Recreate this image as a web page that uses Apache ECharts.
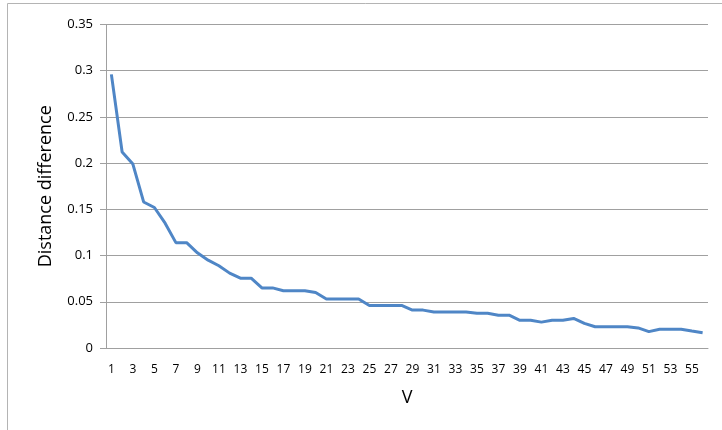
<!DOCTYPE html>
<html>
<head>
<meta charset="utf-8">
<script src="https://cdn.jsdelivr.net/npm/echarts@6/dist/echarts.min.js"></script>
<style>
  html, body { margin: 0; padding: 0; background: #fff; }
  #chart { width: 722px; height: 430px; }
</style>
</head>
<body>
<div id="chart"></div>
<script>
  // V values 1..56
  let vCategories = [];
  for (let i = 1; i <= 56; i++) vCategories.push(String(i));

  // distance difference
  let distanceDiff = [
    0.296, 0.212, 0.199, 0.158, 0.152, 0.135, 0.114, 0.114, 0.103, 0.095,
    0.089, 0.081, 0.0755, 0.0755, 0.065, 0.065, 0.062, 0.062, 0.062, 0.060,
    0.053, 0.053, 0.053, 0.053, 0.046, 0.046, 0.046, 0.046, 0.041, 0.041,
    0.039, 0.039, 0.039, 0.039, 0.0376, 0.0376, 0.0355, 0.0355, 0.030, 0.030,
    0.028, 0.030, 0.030, 0.032, 0.0267, 0.023, 0.023, 0.023, 0.023, 0.0217,
    0.0177, 0.0203, 0.0203, 0.0203, 0.0184, 0.0166
  ];

  let fontName = 'Open Sans';
  let gridGray = '#A0A0A0';

  let myChart = echarts.init(document.getElementById('chart'));
  let option = {
    animation: false,
    textStyle: { fontFamily: fontName },
    graphic: [
      {
        type: 'rect',
        shape: { x: 7.5, y: 3.5, width: 760, height: 480 },
        style: { fill: 'none', stroke: '#B4B4B4', lineWidth: 1 },
        silent: true
      }
    ],
    grid: {
      left: 106,
      right: 14,
      top: 24.5,
      bottom: 82
    },
    xAxis: {
      type: 'category',
      data: vCategories,
      boundaryGap: true,
      name: 'V',
      nameLocation: 'middle',
      nameGap: 41,
      nameTextStyle: { fontSize: 18, color: '#000', fontFamily: fontName },
      axisLine: { show: true, lineStyle: { color: gridGray, width: 1 } },
      axisTick: { show: false },
      axisLabel: {
        interval: 1,
        color: '#000',
        fontSize: 12,
        margin: 16,
        fontFamily: fontName
      },
      splitLine: { show: false }
    },
    yAxis: {
      type: 'value',
      min: 0,
      max: 0.35,
      interval: 0.05,
      name: 'Distance difference',
      nameLocation: 'middle',
      nameGap: 51,
      nameTextStyle: { fontSize: 18, color: '#000', fontFamily: fontName },
      axisLine: { show: true, lineStyle: { color: gridGray, width: 1 } },
      axisTick: { show: true, length: 6, lineStyle: { color: gridGray } },
      axisLabel: {
        color: '#000',
        fontSize: 13,
        margin: 13,
        fontFamily: fontName,
        formatter: function (v) {
          return String(Math.round(v * 100) / 100);
        }
      },
      splitLine: { show: true, lineStyle: { color: gridGray, width: 1 } }
    },
    series: [
      {
        name: 'Distance difference',
        type: 'line',
        data: distanceDiff,
        symbol: 'none',
        lineStyle: { color: '#4F86C6', width: 3 },
        itemStyle: { color: '#4F86C6' }
      }
    ]
  };
  myChart.setOption(option);
</script>
</body>
</html>
